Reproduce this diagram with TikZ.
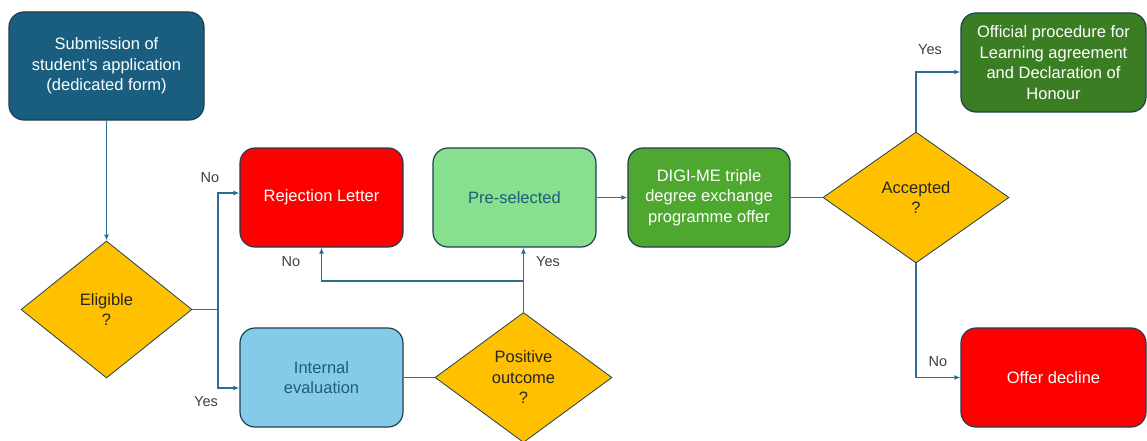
\documentclass[tikz,border=0pt]{standalone}
\usepackage{fontspec}
\setmainfont{Liberation Sans}
\usepackage{tikz}
\usetikzlibrary{arrows.meta}
\usetikzlibrary{shapes.geometric}
\definecolor{submitblue}{HTML}{1A5E7F}
\definecolor{rejectred}{HTML}{FF0000}
\definecolor{evalblue}{HTML}{84CBEA}
\definecolor{preselgreen}{HTML}{86E08F}
\definecolor{offergreen}{HTML}{4EA72E}
\definecolor{officialgreen}{HTML}{3B7D23}
\definecolor{decisiongold}{HTML}{FFC000}
\definecolor{boxborder}{HTML}{1E3F50}
\definecolor{linkblue}{HTML}{2B6E94}
\definecolor{darktext}{HTML}{215C78}
\definecolor{labelgray}{HTML}{404040}
\tikzset{
	box/.style={rectangle,rounded corners=15pt,draw=boxborder,line width=1.2pt,align=center,inner sep=0pt,font=\fontsize{16.5}{20.5}\selectfont},
	decision/.style={diamond,draw=boxborder,line width=0.8pt,fill=decisiongold,align=center,inner sep=0pt,text=black!85,font=\fontsize{16.5}{20.5}\selectfont},
	lbl/.style={text=labelgray,font=\fontsize{14.5}{17}\selectfont},
	line/.style={draw=linkblue,line width=1.3pt},
	edge/.style={line,-{Latex[length=6pt,width=5pt]}}
}
\begin{document}
\begin{tikzpicture}[x=1pt,y=-1pt]
	\useasboundingbox (0,0) rectangle (1147,441);
	\node[box,fill=submitblue,text=white,minimum width=195pt,minimum height=108pt] (submit) at (106.5, 66) {Submission of\\student's application\\(dedicated form)};
	\node[decision,minimum width=171pt,minimum height=137pt] (elig) at (106.5, 309.5) {Eligible\\?};
	\node[box,fill=rejectred,text=white,minimum width=163pt,minimum height=99pt] (reject) at (321.5, 197.5) {Rejection Letter};
	\node[box,fill=evalblue,text=darktext,minimum width=163pt,minimum height=99pt] (interneval) at (321.5, 377.5) {Internal\\evaluation};
	\node[decision,minimum width=177pt,minimum height=130pt] (posout) at (523.5, 377.5) {Positive\\outcome\\?};
	\node[box,fill=preselgreen,text=darktext,minimum width=163pt,minimum height=99pt] (presel) at (514.5, 197.5) {Pre-selected};
	\node[box,fill=offergreen,text=white,minimum width=162pt,minimum height=99pt] (offer) at (709, 197.5) {DIGI-ME triple\\degree exchange\\programme offer};
	\node[decision,minimum width=186pt,minimum height=131pt] (accept) at (916, 197.5) {Accepted\\?};
	\node[box,fill=officialgreen,text=white,minimum width=185pt,minimum height=99pt] (official) at (1053.5, 62.5) {Official procedure for\\Learning agreement\\and Declaration of\\Honour};
	\node[box,fill=rejectred,text=white,minimum width=185pt,minimum height=99pt] (decline) at (1053.5, 377.5) {Offer decline};
	
	\coordinate (split1) at (218, 309.5);
	\coordinate (split2) at (523.5, 281);
	
	\draw[edge] (submit) -- (elig);
	\draw[line] (elig.east) -- (split1);
	\draw[edge] (split1) |- ([yshift=4.5pt]reject.west);
	\draw[edge] (split1) |- ([yshift=-10.5pt]interneval.west);
	\draw[line] (interneval.east) -- (posout.west);
	\draw[edge] (posout.north) -- (posout.north |- presel.south);
	\draw[edge] (split2) -| (reject.south);
	\draw[edge] (presel) -- (offer);
	\draw[line] (offer.east) -- (accept.west);
	\draw[edge] (accept.north) |- ([yshift=-9.5pt]official.west);
	\draw[edge] (accept.south) |- (decline.west);
	
	\node[lbl] (noelig) at (210, 178) {No};
	\node[lbl] (yeselig) at (206, 402) {Yes};
	\node[lbl] (nopos) at (291, 262) {No};
	\node[lbl] (yespos) at (548, 262) {Yes};
	\node[lbl] (yesacc) at (930, 50) {Yes};
	\node[lbl] (noacc) at (938, 362) {No};
\end{tikzpicture}
\end{document}
